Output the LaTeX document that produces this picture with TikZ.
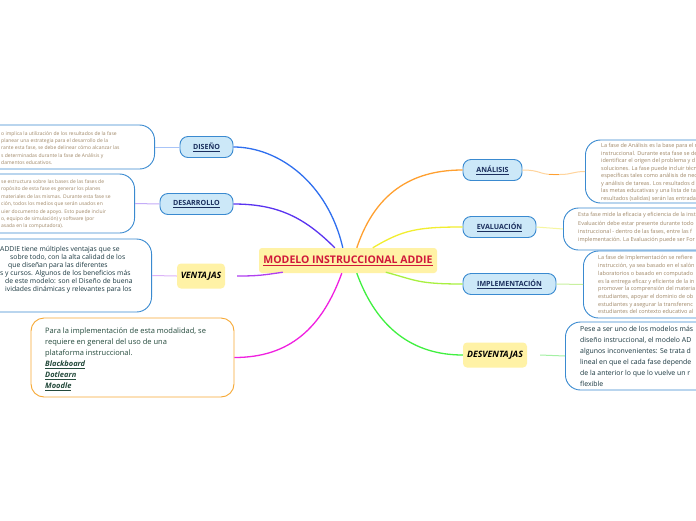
\documentclass[tikz,border=0pt]{standalone}
\usepackage{fontspec}
\setmainfont{Open Sans}
\usetikzlibrary{calc}
\definecolor{lblue}{HTML}{CCE8F8}
\definecolor{bblue}{HTML}{3A8AD0}
\definecolor{navy}{HTML}{1B2F5E}
\definecolor{tan}{HTML}{A08868}
\definecolor{darkt}{HTML}{1A3840}
\definecolor{greent}{HTML}{244A3C}
\definecolor{pyellow}{HTML}{FFF2A6}
\definecolor{tred}{HTML}{D0183A}
\definecolor{oborder}{HTML}{F7A833}
\definecolor{cDis}{HTML}{2F6FEF}
\definecolor{cDes}{HTML}{5A33F0}
\definecolor{cVen}{HTML}{B040F0}
\definecolor{cMag}{HTML}{F020E0}
\definecolor{cAna}{HTML}{FFA030}
\definecolor{cEva}{HTML}{F2EE30}
\definecolor{cImp}{HTML}{A8F040}
\definecolor{cDsv}{HTML}{40F040}
\definecolor{lDis}{HTML}{A8C4F8}
\definecolor{lDes}{HTML}{C4ACF8}
\definecolor{lVen}{HTML}{DCB4F8}
\definecolor{lAna}{HTML}{FFD49C}
\definecolor{lEva}{HTML}{F6F6A0}
\definecolor{lImp}{HTML}{C8F0A0}
\definecolor{lDsv}{HTML}{A4F0A4}
\begin{document}
\begin{tikzpicture}[x=1pt,y=-1pt,
  titlebox/.style={fill=pyellow, rounded corners=3pt, inner sep=0pt, minimum width=178pt, minimum height=25pt, text=tred, font=\fontsize{10.5}{12}\selectfont\bfseries},
  topic/.style={fill=lblue, draw=bblue, line width=0.9pt, rounded corners=8pt, inner sep=0pt, minimum height=21pt, text=navy, font=\fontsize{7.1}{8}\selectfont\bfseries},
  ytopic/.style={fill=pyellow, rounded corners=4pt, inner sep=0pt, minimum height=25pt, text=black, font=\fontsize{8.8}{10}\selectfont\bfseries\itshape},
  notebox/.style={draw=bblue, line width=0.9pt, fill=white, rounded corners=15pt, inner sep=0pt},
  obox/.style={draw=oborder, line width=0.9pt, fill=white, rounded corners=13pt, inner sep=0pt},
  tantext/.style={anchor=north west, inner sep=0pt, align=left, text=tan, font=\fontsize{5.0}{7.4}\selectfont},
  rtantext/.style={anchor=north west, inner sep=0pt, align=left, text=tan, font=\fontsize{5.5}{7.5}\selectfont},
  darktext/.style={anchor=north west, inner sep=0pt, align=left, text=darkt, font=\fontsize{6.8}{8}\selectfont},
  greentext/.style={anchor=north west, inner sep=0pt, align=left, text=greent, font=\fontsize{7.5}{11}\selectfont},
  mainline/.style={line width=1.3pt},
  subline/.style={line width=1pt}
]
\useasboundingbox (0,0) rectangle (696,520);
\fill[white] (0,0) rectangle (696,520);
\clip (0,0) rectangle (696,520);

% title
\node[titlebox] (c) at (348,260.5) {\underline{MODELO INSTRUCCIONAL ADDIE}};

% left topics
\node[topic, minimum width=53pt] (dis) at (206.5,147) {\underline{DISEÑO}};
\node[topic, minimum width=73pt] (des) at (196.5,204) {\underline{DESARROLLO}};
\node[ytopic, minimum width=48pt] (ven) at (201,276) {VENTAJAS};

% right topics
\node[topic, minimum width=59pt] (ana) at (492.5,170) {\underline{ANÁLISIS}};
\node[topic, minimum width=73pt] (eva) at (499.5,227) {\underline{EVALUACIÓN}};
\node[topic, minimum width=93pt] (imp) at (509.5,284) {\underline{IMPLEMENTACIÓN}};
\node[ytopic, minimum width=64pt] (dsv) at (495,355) {DESVENTAJAS};

% note boxes
\node[notebox, anchor=east, minimum width=180pt, minimum height=44pt] (b1) at (155,147) {};
\node[notebox, anchor=east, minimum width=160pt, minimum height=59pt] (b2) at (135,203.5) {};
\node[notebox, anchor=east, minimum width=177pt, minimum height=73pt] (b3) at (152,275.5) {};
\node[obox, minimum width=203pt, minimum height=79pt] (b4) at (132.5,357.5) {};
\node[notebox, anchor=west, minimum width=150pt, minimum height=63pt] (ba) at (585,171.5) {};
\node[notebox, anchor=west, minimum width=160pt, minimum height=42pt] (be) at (563,229) {};
\node[notebox, anchor=west, minimum width=150pt, minimum height=67pt] (bi) at (583,284.5) {};
\node[notebox, anchor=west, minimum width=160pt, minimum height=68pt] (bd) at (565,356) {};

% texts
\node[tantext] (t1) at (1,131) {o implica la utilización de los resultados de la fase\\
planear una estrategia para el desarrollo de la\\
rante esta fase, se debe delinear cómo alcanzar las\\
s determinadas durante la fase de Análisis y\\
damentos educativos.};
\node[tantext] (t2) at (1,179.5) {se estructura sobre las bases de las fases de\\
ropósito de esta fase es generar los planes\\
materiales de las mismas. Durante esta fase se\\
ción, todos los medios que serán usados en\\
uier documento de apoyo. Esto puede incluir\\
o, equipo de simulación) y software (por\\
asada en la computadora).};
\node[darktext] (t3) at (0,246.5) {ADDIE tiene múltiples ventajas que se\\
\hspace*{10pt}sobre todo, con la alta calidad de los\\
\hspace*{8pt}que diseñan para las diferentes\\
s y cursos. Algunos de los beneficios más\\
\hspace*{5pt}de este modelo: son el Diseño de buena\\
\hspace*{5pt}ividades dinámicas y relevantes para los};
\node[greentext] (t4) at (45,328) {Para la implementación de esta modalidad, se\\
requiere en general del uso de una\\
plataforma instruccional.\\
\textbf{\textit{\underline{Blackboard}}}\\
\textbf{\textit{\underline{Dotlearn}}}\\
\textbf{\textit{\underline{Moodle}}}};
\node[rtantext] (ta) at (601,143.5) {La fase de Análisis es la base para el r\\
instruccional. Durante esta fase se de\\
identificar el origen del problema y d\\
soluciones. La fase puede incluir técn\\
específicas tales como análisis de nec\\
y análisis de tareas. Los resultados d\\
las metas educativas y una lista de ta\\
resultados (salidas) serán las entrada};
\node[rtantext, font=\fontsize{5.5}{8.3}\selectfont] (te) at (578,212.5) {Esta fase mide la eficacia y eficiencia de la inst\\
Evaluación debe estar presente durante todo\\
instruccional - dentro de las fases, entre las f\\
implementación. La Evaluación puede ser For};
\node[rtantext, font=\fontsize{5.5}{7.7}\selectfont] (ti) at (598,255.5) {La fase de Implementación se refiere\\
instrucción, ya sea basado en el salón\\
laboratorios o basado en computado\\
es la entrega eficaz y eficiente de la in\\
promover la comprensión del materia\\
estudiantes, apoyar el dominio de ob\\
estudiantes y asegurar la transferenc\\
estudiantes del contexto educativo al};
\node[greentext, text=darkt, font=\fontsize{6.9}{11}\selectfont] (td) at (580,326) {Pese a ser uno de los modelos más\\
diseño instruccional, el modelo AD\\
algunos inconvenientes: Se trata d\\
lineal en que el cada fase depende\\
de la anterior lo que lo vuelve un r\\
flexible};

% main connectors
\draw[mainline, cDis] ($(c.north west)+(84,0)$) .. controls +(-15,-65) and +(45,0) .. (dis.east);
\draw[mainline, cDes] ($(c.north west)+(76,0)$) .. controls +(-30,-30) and +(45,0) .. (des.east);
\draw[mainline, cVen] ($(c.south west)+(24,-1)$) .. controls +(-20,3) and +(20,0) .. ($(ven.east)+(12,0)$);
\draw[mainline, cMag] ($(c.south west)+(83,0)$) .. controls +(-20,55) and +(55,0) .. (b4.east);
\draw[mainline, cAna] ($(c.north west)+(98,0)$) .. controls +(20,-60) and +(-45,0) .. (ana.west);
\draw[mainline, cEva] ($(c.north west)+(114,0)$) .. controls +(30,-18) and +(-45,0) .. (eva.west);
\draw[mainline, cImp] ($(c.south west)+(127,-1)$) .. controls +(30,8) and +(-45,0) .. (imp.west);
\draw[mainline, cDsv] ($(c.south west)+(98,0)$) .. controls +(20,55) and +(-50,0) .. (dsv.west);

% sub connectors
\draw[subline, lDis] (dis.west) -- (b1.east);
\draw[subline, lDes] (des.west) -- (b2.east);
\draw[subline, lVen] (ven.west) -- (b3.east);
\draw[subline, lAna] (ana.east) .. controls +(18,0) and +(-14,0) .. (553,174.5) -- (560,174.5) .. controls +(12,0) and +(-12,0) .. (ba.west);
\draw[line width=1.8pt, cAna] (549,174.5) -- (559,174.5);
\draw[subline, lEva] (eva.east) -- (be.west);
\draw[subline, lImp] (imp.east) -- (bi.west);
\draw[subline, lDsv] ($(dsv.east)+(13,0)$) -- (bd.west);
\end{tikzpicture}
\end{document}
